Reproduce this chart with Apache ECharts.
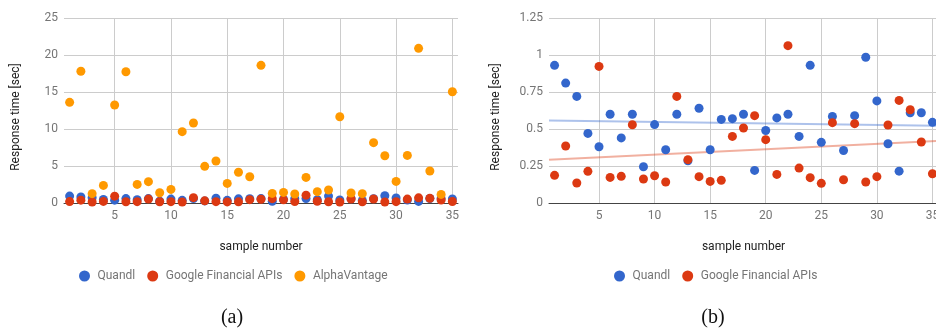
<!DOCTYPE html>
<html>
<head>
<meta charset="utf-8">
<script src="https://cdn.jsdelivr.net/npm/echarts@6/dist/echarts.min.js"></script>
<style>html,body{margin:0;padding:0;background:#fff}#c{width:936px;height:329px}</style>
</head>
<body>
<div id="c"></div>
<script>
var samples = [1,2,3,4,5,6,7,8,9,10,11,12,13,14,15,16,17,18,19,20,21,22,23,24,25,26,27,28,29,30,31,32,33,34,35];
var quandl = [0.93,0.81,0.72,0.47,0.38,0.60,0.44,0.60,0.245,0.53,0.36,0.60,0.285,0.64,0.36,0.565,0.57,0.60,0.22,0.49,0.575,0.60,0.45,0.93,0.41,0.585,0.355,0.59,0.985,0.69,0.40,0.215,0.61,0.61,0.545];
var google = [0.187,0.385,0.135,0.214,0.923,0.173,0.18,0.529,0.162,0.184,0.142,0.72,0.293,0.178,0.146,0.153,0.45,0.507,0.59,0.428,0.193,1.063,0.236,0.171,0.133,0.543,0.157,0.536,0.142,0.178,0.527,0.693,0.63,0.412,0.198];
var alpha = [13.6,17.8,1.26,2.38,13.24,17.74,2.51,2.88,1.39,1.84,9.64,10.81,4.95,5.68,2.65,4.16,3.55,18.6,1.3,1.43,1.22,3.46,1.53,1.76,11.66,1.35,1.26,8.15,6.39,2.92,6.43,20.9,4.32,1.16,15.04];
var trendQuandl = [[0.5,0.558],[35.5,0.522]];
var trendGoogle = [[0.5,0.293],[35.5,0.419]];
var seriesNames = ['Quandl','Google Financial APIs','AlphaVantage'];
var xTitle = 'sample number';
var yTitle = 'Response time [sec]';
var panelLabels = ['(a)','(b)'];

var colors = ['#3366cc','#dc3912','#ff9900'];
var FONT = 'Roboto';
function pairs(v){ return samples.map(function(s,i){ return [s, v[i]]; }); }

function xAxisCfg(gi){
  return {
    type:'value', gridIndex:gi, min:0.5, max:35.5, splitNumber:7,
    name:xTitle, nameLocation:'middle', nameGap:38,
    nameTextStyle:{color:'#222', fontSize:12, fontFamily:FONT},
    axisLine:{show:true, lineStyle:{color:'#444', width:1}},
    axisTick:{show:false},
    axisLabel:{color:'#757575', fontSize:12, fontFamily:FONT, margin:7, showMinLabel:false, showMaxLabel:false,
      formatter:function(v){ return (Math.abs(v%5)<1e-6) ? String(v) : ''; }},
    splitLine:{show:true, showMinLine:false, showMaxLine:false, lineStyle:{color:'#cccccc', width:1}}
  };
}
function yAxisCfg(gi, max, interval, gap){
  return {
    type:'value', gridIndex:gi, min:0, max:max, interval:interval,
    name:yTitle, nameLocation:'middle', nameGap:gap, nameRotate:90,
    nameTextStyle:{color:'#222', fontSize:12, fontFamily:FONT, padding:[0,13,0,0]},
    axisLine:{show:false}, axisTick:{show:false},
    axisLabel:{color:'#757575', fontSize:12, fontFamily:FONT, margin:6},
    splitLine:{show:true, lineStyle:{color:'#cccccc', width:1}}
  };
}
function scatter(name, data, ci, gi, z){
  return {type:'scatter', name:name, xAxisIndex:gi, yAxisIndex:gi, data:pairs(data),
    symbolSize:9, itemStyle:{color:colors[ci], opacity:1}, z:z, silent:true, animation:false};
}
function trend(data, color, gi){
  return {type:'line', xAxisIndex:gi, yAxisIndex:gi, data:data, symbol:'none', silent:true,
    lineStyle:{color:color, width:2}, z:1, animation:false};
}
var legendText = {color:'#757575', fontSize:12, fontFamily:FONT};

var chart = echarts.init(document.getElementById('c'), null, {renderer:'canvas'});
chart.setOption({
  animation:false,
  grid:[
    {left:64, top:18, width:394, height:185, outerBoundsMode:'none', containLabel:false},
    {left:549, top:18, width:389, height:185, outerBoundsMode:'none', containLabel:false}
  ],
  xAxis:[xAxisCfg(0), xAxisCfg(1)],
  yAxis:[yAxisCfg(0, 25, 5, 42), yAxisCfg(1, 1.25, 0.25, 47)],
  legend:[
    {data:seriesNames, left:74, top:265, icon:'circle', itemWidth:16, itemHeight:11, itemGap:12, textStyle:legendText, selectedMode:false},
    {data:[seriesNames[0], seriesNames[1]], left:609, top:265, icon:'circle', itemWidth:16, itemHeight:11, itemGap:12, textStyle:legendText, selectedMode:false}
  ],
  series:[
    scatter(seriesNames[0], quandl, 0, 0, 2),
    scatter(seriesNames[1], google, 1, 0, 3),
    scatter(seriesNames[2], alpha, 2, 0, 4),
    trend(trendQuandl, 'rgba(51,102,204,0.4)', 1),
    trend(trendGoogle, 'rgba(220,57,18,0.4)', 1),
    scatter(seriesNames[0], quandl, 0, 1, 2),
    scatter(seriesNames[1], google, 1, 1, 3)
  ],
  graphic:[
    {type:'text', x:232, y:318, style:{text:panelLabels[0], fill:'#111', font:'20px "Liberation Serif"', textAlign:'center', textVerticalAlign:'middle'}},
    {type:'text', x:713, y:318, style:{text:panelLabels[1], fill:'#111', font:'20px "Liberation Serif"', textAlign:'center', textVerticalAlign:'middle'}}
  ]
});
</script>
</body>
</html>
